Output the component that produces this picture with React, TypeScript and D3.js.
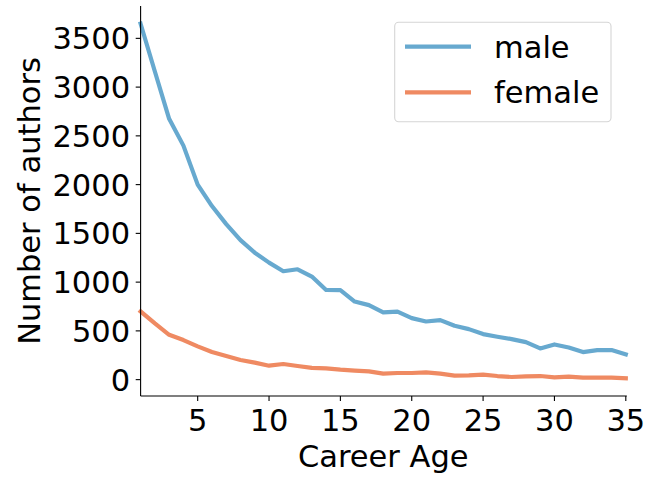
import { useEffect, useRef } from "react";
import * as d3 from "d3";

const careerAge = d3.range(1, 36);
const male = [
  3650, 3160, 2675, 2400, 2000, 1780, 1595, 1430, 1302, 1200,
  1112, 1132, 1057, 920, 917, 801, 764, 690, 697, 631,
  596, 610, 552, 518, 467, 440, 416, 385, 320, 361,
  330, 283, 302, 304, 259,
];
const female = [
  699, 576, 460, 406, 341, 283, 242, 201, 174, 143,
  160, 140, 120, 116, 102, 92, 85, 62, 68, 68,
  75, 61, 41, 44, 51, 37, 27, 34, 37, 24,
  30, 20, 20, 20, 14,
];
const xTicks = [5, 10, 15, 20, 25, 30, 35];
const yTicks = [0, 500, 1000, 1500, 2000, 2500, 3000, 3500];
const seriesNames = ["male", "female"];
const COLORS: Record<string, string> = { male: "#67a9cf", female: "#ef8a62" };

const W = 648, H = 477;
const FONT = "'DejaVu Sans', sans-serif";
const FS = 30.5;

export default function App() {
  const ref = useRef<SVGSVGElement>(null);

  useEffect(() => {
    document.body.style.margin = "0";
    if (!ref.current) return;
    const svg = d3.select(ref.current);
    svg.selectAll("*").remove();

    const m = { left: 140.6, right: 625.8, top: 6, bottom: 396 };

    // matplotlib-style 5% y margin
    const all = [...male, ...female];
    const lo = d3.min(all)!, hi = d3.max(all)!;
    const pad = (hi - lo) * 0.05;

    const x = d3.scaleLinear().domain([1, 35]).range([m.left, m.right]);
    const y = d3.scaleLinear().domain([lo - pad, hi + pad]).range([m.bottom, m.top]);

    const series = [
      { name: "male", values: male },
      { name: "female", values: female },
    ];

    const line = d3.line<number>()
      .x((_, i) => x(careerAge[i]))
      .y(d => y(d));

    svg.append("g")
      .selectAll("path")
      .data(series)
      .enter().append("path")
      .attr("fill", "none")
      .attr("stroke", d => COLORS[d.name])
      .attr("stroke-width", 4.2)
      .attr("stroke-linejoin", "round")
      .attr("stroke-linecap", "square")
      .attr("d", d => line(d.values));

    // Spines
    svg.append("line")
      .attr("x1", m.left).attr("x2", m.left)
      .attr("y1", m.top).attr("y2", m.bottom)
      .attr("stroke", "#000").attr("stroke-width", 1.1);
    svg.append("line")
      .attr("x1", m.left).attr("x2", m.right + 1)
      .attr("y1", m.bottom).attr("y2", m.bottom)
      .attr("stroke", "#000").attr("stroke-width", 1.1);

    // X ticks
    const xg = svg.append("g");
    xTicks.forEach(t => {
      xg.append("line")
        .attr("x1", x(t)).attr("x2", x(t))
        .attr("y1", m.bottom).attr("y2", m.bottom + 4.9)
        .attr("stroke", "#000").attr("stroke-width", 1.1);
      xg.append("text")
        .attr("x", x(t)).attr("y", 431)
        .attr("text-anchor", "middle")
        .attr("font-family", FONT).attr("font-size", FS)
        .text(t);
    });

    // Y ticks
    const yg = svg.append("g");
    yTicks.forEach(t => {
      yg.append("line")
        .attr("x1", m.left - 4.9).attr("x2", m.left)
        .attr("y1", y(t)).attr("y2", y(t))
        .attr("stroke", "#000").attr("stroke-width", 1.1);
      yg.append("text")
        .attr("x", m.left - 10.5).attr("y", y(t))
        .attr("dy", "0.36em")
        .attr("text-anchor", "end")
        .attr("font-family", FONT).attr("font-size", FS)
        .text(t);
    });

    // Axis labels
    svg.append("text")
      .attr("x", (m.left + m.right) / 2).attr("y", 467)
      .attr("text-anchor", "middle")
      .attr("font-family", FONT).attr("font-size", FS)
      .text("Career Age");
    svg.append("text")
      .attr("transform", `translate(40,${(m.top + m.bottom) / 2}) rotate(-90)`)
      .attr("text-anchor", "middle")
      .attr("font-family", FONT).attr("font-size", FS)
      .text("Number of authors");

    // Legend
    const lg = svg.append("g");
    lg.append("rect")
      .attr("x", 394.7).attr("y", 22.3)
      .attr("width", 216.3).attr("height", 99.4)
      .attr("rx", 4)
      .attr("fill", "#fff").attr("fill-opacity", 0.8)
      .attr("stroke", "#d5d5d5").attr("stroke-width", 1.1);
    seriesNames.forEach((name, i) => {
      const cy = 46.7 + i * 45.6;
      lg.append("line")
        .attr("x1", 405).attr("x2", 471)
        .attr("y1", cy).attr("y2", cy)
        .attr("stroke", COLORS[name]).attr("stroke-width", 4.2);
      lg.append("text")
        .attr("x", 494).attr("y", cy + 11)
        .attr("font-family", FONT).attr("font-size", FS)
        .text(name);
    });
  }, []);

  return (
    <svg ref={ref} width={W} height={H}
      style={{ display: "block", position: "absolute", left: 0, top: 0, background: "#fff" }} />
  );
}
